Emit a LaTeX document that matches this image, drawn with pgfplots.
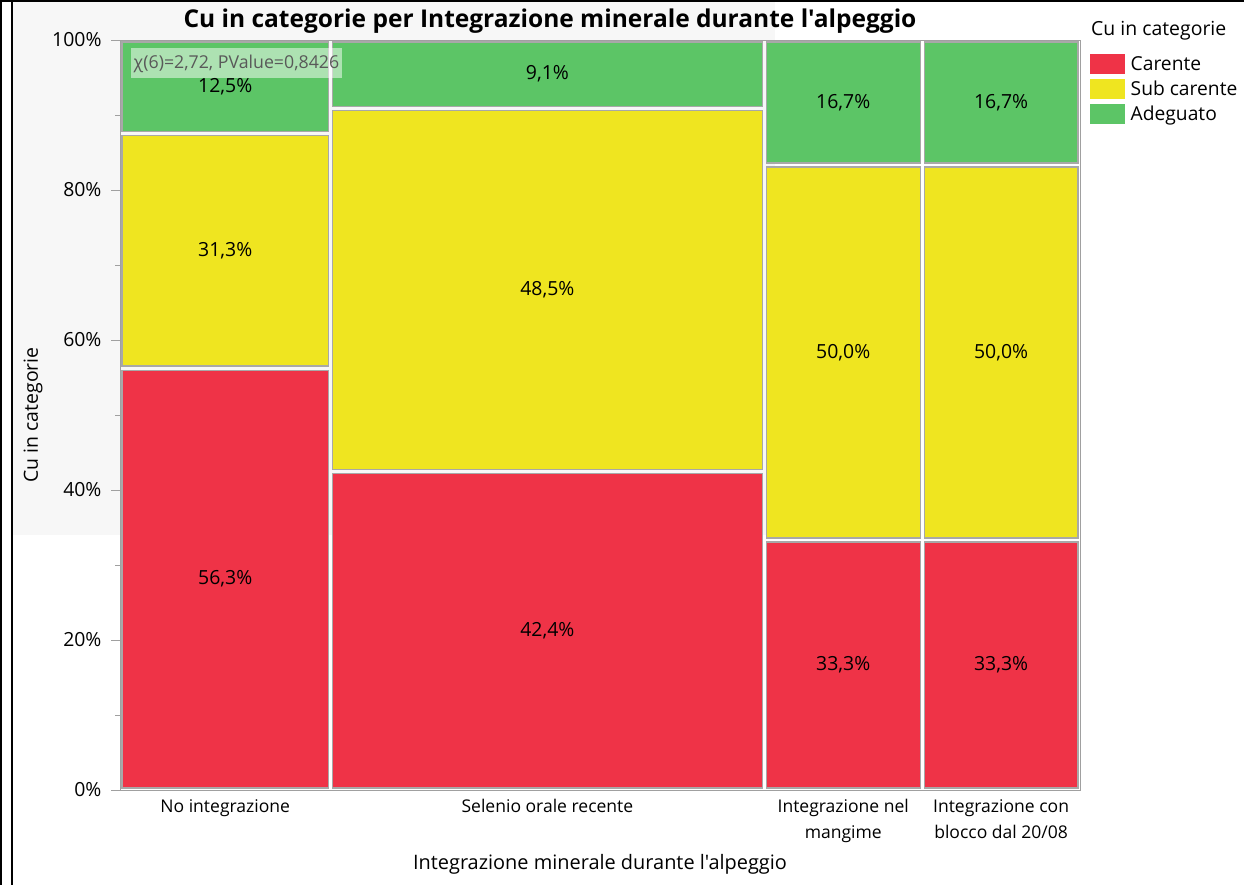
\documentclass[border=0pt]{standalone}
\usepackage{fontspec}
\setmainfont{Open Sans}[Ligatures=TeXOff]
\usepackage{pgfplots}
\pgfplotsset{compat=1.18}
\definecolor{cred}{HTML}{EF3347}
\definecolor{cyel}{HTML}{EFE520}
\definecolor{cgrn}{HTML}{5CC566}
\definecolor{cedge}{HTML}{A8A8A8}
\definecolor{axgray}{HTML}{A0A0A0}
\definecolor{bggray}{HTML}{F7F7F7}
\begin{document}
\begin{tikzpicture}[x=1bp,y=1bp]
\useasboundingbox (-120,-95) rectangle (1124,790);
\fill[bggray] (-108,255) rectangle (655,790);
\draw[black, line width=2bp] (-119,-95) -- (-119,790);
\draw[black, line width=2bp] (-108,-95) -- (-108,790);
\draw[black, line width=2bp] (-120,789) -- (1124,789);
\node[font=\bfseries\fontsize{24.6}{27}\selectfont, anchor=center] at (430,769) {Cu in categorie per Integrazione minerale durante l'alpeggio};
\node[font=\fontsize{19.5}{22}\selectfont, anchor=west, inner sep=0] at (971,759) {Cu in categorie};
\begin{axis}[
  at={(0,0)}, anchor=south west,
  scale only axis, width=960bp, height=750bp,
  xmin=0, xmax=100, ymin=0, ymax=100,
  axis line style={axgray},
  /pgf/number format/assume math mode=true,
  tick pos=left,
  ytick={0,20,40,60,80,100},
  yticklabels={0\%,20\%,40\%,60\%,80\%,100\%},
  minor ytick={10,30,50,70,90},
  tick align=outside,
  major tick length=9bp, minor tick length=5bp,
  tick style={axgray},
  xtick={10.96,44.52,75.34,91.78},
  xticklabels={No integrazione, Selenio orale recente, Integrazione nel\\mangime, Integrazione con\\blocco dal 20/08},
  xtick style={draw=none},
  x tick label style={align=center, font=\fontsize{17.6}{26}\selectfont, yshift=3bp},
  y tick label style={font=\fontsize{19.5}{22}\selectfont, xshift=-6bp},
  xlabel={Integrazione minerale durante l'alpeggio},
  ylabel={Cu in categorie},
  every axis x label/.style={at={(rel axis cs:0.5,-0.0987)}, anchor=center, font=\fontsize{20}{22}\selectfont},
  every axis y label/.style={at={(rel axis cs:-0.0906,0.5)}, anchor=center, rotate=90, font=\fontsize{19.5}{22}\selectfont},
  legend style={at={(rel axis cs:1.0104,0.981)}, anchor=north west, draw=none, fill=none,
    font=\fontsize{19.3}{22}\selectfont, row sep=5bp, inner sep=0pt,
    nodes={inner sep=1.5bp},
    /tikz/every odd column/.append style={column sep=4bp}},
  legend cell align=left,
  legend image code/.code={\path[#1, draw=none] (0bp,-10bp) rectangle (35bp,10bp);},
  clip=false,
]
% column 1: No integrazione
\addplot[fill=cred, draw=cedge, line width=1.2bp] coordinates {(0.21,0.27) (21.71,0.27) (21.71,55.98) (0.21,55.98)} -- cycle;
\addlegendentry{Carente}
\addplot[fill=cyel, draw=cedge, line width=1.2bp] coordinates {(0.21,56.52) (21.71,56.52) (21.71,87.23) (0.21,87.23)} -- cycle;
\addlegendentry{Sub carente}
\addplot[fill=cgrn, draw=cedge, line width=1.2bp] coordinates {(0.21,87.77) (21.71,87.77) (21.71,99.73) (0.21,99.73)} -- cycle;
\addlegendentry{Adeguato}
% column 2: Selenio orale recente
\addplot[forget plot, fill=cred, draw=cedge, line width=1.2bp] coordinates {(22.13,0.27) (66.91,0.27) (66.91,42.16) (22.13,42.16)} -- cycle;
\addplot[forget plot, fill=cyel, draw=cedge, line width=1.2bp] coordinates {(22.13,42.69) (66.91,42.69) (66.91,90.64) (22.13,90.64)} -- cycle;
\addplot[forget plot, fill=cgrn, draw=cedge, line width=1.2bp] coordinates {(22.13,91.18) (66.91,91.18) (66.91,99.73) (22.13,99.73)} -- cycle;
% column 3: Integrazione nel mangime
\addplot[forget plot, fill=cred, draw=cedge, line width=1.2bp] coordinates {(67.33,0.27) (83.35,0.27) (83.35,33.07) (67.33,33.07)} -- cycle;
\addplot[forget plot, fill=cyel, draw=cedge, line width=1.2bp] coordinates {(67.33,33.60) (83.35,33.60) (83.35,83.07) (67.33,83.07)} -- cycle;
\addplot[forget plot, fill=cgrn, draw=cedge, line width=1.2bp] coordinates {(67.33,83.60) (83.35,83.60) (83.35,99.73) (67.33,99.73)} -- cycle;
% column 4: Integrazione con blocco
\addplot[forget plot, fill=cred, draw=cedge, line width=1.2bp] coordinates {(83.77,0.27) (99.79,0.27) (99.79,33.07) (83.77,33.07)} -- cycle;
\addplot[forget plot, fill=cyel, draw=cedge, line width=1.2bp] coordinates {(83.77,33.60) (99.79,33.60) (99.79,83.07) (83.77,83.07)} -- cycle;
\addplot[forget plot, fill=cgrn, draw=cedge, line width=1.2bp] coordinates {(83.77,83.60) (99.79,83.60) (99.79,99.73) (83.77,99.73)} -- cycle;
% labels
\addplot[forget plot, only marks, mark=none, point meta=explicit,
  nodes near coords={\pgfmathprintnumber[fixed, fixed zerofill, precision=1, use comma, assume math mode=true]{\pgfplotspointmeta}\%},
  nodes near coords style={anchor=center, font=\fontsize{19.5}{22}\selectfont, text=black}]
  table[meta=v] {
x y v
10.96 28.125 56.3
10.96 71.875 31.3
10.96 93.75 12.5
44.52 21.21 42.4
44.52 66.67 48.5
44.52 95.45 9.1
75.34 16.67 33.3
75.34 58.33 50.0
75.34 91.67 16.7
91.78 16.67 33.3
91.78 58.33 50.0
91.78 91.67 16.7
};
\node[anchor=north west, fill=white, fill opacity=0.5, text opacity=1, text=black!65,
  inner xsep=2.5bp, inner ysep=0bp, minimum height=30bp, font=\fontsize{17.8}{20}\selectfont]
  at (axis cs:1.15,98.9) {χ(6)=2,72, PValue=0,8426};
\end{axis}
\end{tikzpicture}
\end{document}
